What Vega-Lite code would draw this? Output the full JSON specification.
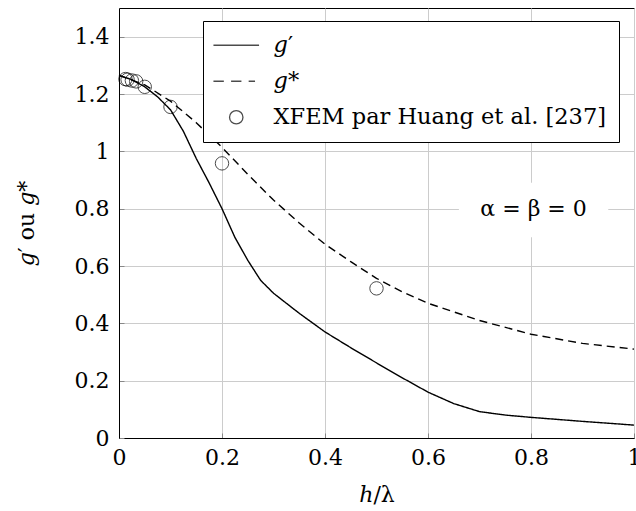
{
  "$schema": "https://vega.github.io/schema/vega-lite/v6.json",
  "width": 515,
  "height": 430,
  "autosize": {"type": "none"},
  "padding": {"left": 119, "top": 8, "right": 2, "bottom": 73},
  "background": "white",
  "config": {
    "font": "DejaVu Serif",
    "view": {"stroke": "black", "strokeWidth": 1},
    "axis": {
      "grid": true, "labelFlush": false,
      "labelFont": "DejaVu Serif", "labelFontSize": 22, "labelColor": "black",
      "titleFont": "DejaVu Serif", "titleFontSize": 22, "titleFontWeight": "normal", "titleColor": "black",
      "gridColor": "#cccccc", "gridWidth": 1, "domainColor": "black", "domainWidth": 1,
      "tickColor": "#888888", "tickSize": -5
    }
  },
  "datasets": {
    "curves": [
      {"h": 0.0, "g": 1.265, "series": "𝑔′"},
      {"h": 0.025, "g": 1.25, "series": "𝑔′"},
      {"h": 0.05, "g": 1.225, "series": "𝑔′"},
      {"h": 0.075, "g": 1.19, "series": "𝑔′"},
      {"h": 0.1, "g": 1.145, "series": "𝑔′"},
      {"h": 0.125, "g": 1.07, "series": "𝑔′"},
      {"h": 0.15, "g": 0.975, "series": "𝑔′"},
      {"h": 0.175, "g": 0.89, "series": "𝑔′"},
      {"h": 0.2, "g": 0.80, "series": "𝑔′"},
      {"h": 0.225, "g": 0.70, "series": "𝑔′"},
      {"h": 0.25, "g": 0.62, "series": "𝑔′"},
      {"h": 0.275, "g": 0.55, "series": "𝑔′"},
      {"h": 0.3, "g": 0.505, "series": "𝑔′"},
      {"h": 0.35, "g": 0.435, "series": "𝑔′"},
      {"h": 0.4, "g": 0.37, "series": "𝑔′"},
      {"h": 0.45, "g": 0.315, "series": "𝑔′"},
      {"h": 0.5, "g": 0.262, "series": "𝑔′"},
      {"h": 0.55, "g": 0.21, "series": "𝑔′"},
      {"h": 0.6, "g": 0.16, "series": "𝑔′"},
      {"h": 0.65, "g": 0.12, "series": "𝑔′"},
      {"h": 0.7, "g": 0.092, "series": "𝑔′"},
      {"h": 0.75, "g": 0.08, "series": "𝑔′"},
      {"h": 0.8, "g": 0.072, "series": "𝑔′"},
      {"h": 0.9, "g": 0.058, "series": "𝑔′"},
      {"h": 1.0, "g": 0.045, "series": "𝑔′"},
      {"h": 0.0, "g": 1.265, "series": "𝑔*"},
      {"h": 0.05, "g": 1.232, "series": "𝑔*"},
      {"h": 0.1, "g": 1.175, "series": "𝑔*"},
      {"h": 0.15, "g": 1.10, "series": "𝑔*"},
      {"h": 0.2, "g": 1.014, "series": "𝑔*"},
      {"h": 0.25, "g": 0.92, "series": "𝑔*"},
      {"h": 0.3, "g": 0.83, "series": "𝑔*"},
      {"h": 0.35, "g": 0.75, "series": "𝑔*"},
      {"h": 0.4, "g": 0.676, "series": "𝑔*"},
      {"h": 0.45, "g": 0.615, "series": "𝑔*"},
      {"h": 0.5, "g": 0.557, "series": "𝑔*"},
      {"h": 0.55, "g": 0.51, "series": "𝑔*"},
      {"h": 0.6, "g": 0.47, "series": "𝑔*"},
      {"h": 0.7, "g": 0.41, "series": "𝑔*"},
      {"h": 0.8, "g": 0.362, "series": "𝑔*"},
      {"h": 0.9, "g": 0.33, "series": "𝑔*"},
      {"h": 1.0, "g": 0.31, "series": "𝑔*"}
    ],
    "xfem": [
      {"h": 0.0125, "g": 1.252, "series": "XFEM par Huang et al. [237]"},
      {"h": 0.0167, "g": 1.25, "series": "XFEM par Huang et al. [237]"},
      {"h": 0.025, "g": 1.247, "series": "XFEM par Huang et al. [237]"},
      {"h": 0.0333, "g": 1.244, "series": "XFEM par Huang et al. [237]"},
      {"h": 0.05, "g": 1.225, "series": "XFEM par Huang et al. [237]"},
      {"h": 0.1, "g": 1.155, "series": "XFEM par Huang et al. [237]"},
      {"h": 0.2, "g": 0.958, "series": "XFEM par Huang et al. [237]"},
      {"h": 0.5, "g": 0.522, "series": "XFEM par Huang et al. [237]"}
    ]
  },
  "layer": [
    {
      "data": {"name": "curves"},
      "mark": {"type": "line", "color": "black", "strokeWidth": 1.4},
      "encoding": {
        "x": {
          "field": "h", "type": "quantitative",
          "scale": {"domain": [0, 1], "nice": false},
          "axis": {"grid": true, "labelFlush": false, "values": [0, 0.2, 0.4, 0.6, 0.8, 1], "format": "~g", "title": "ℎ/λ", "labelPadding": 14, "titlePadding": 16}
        },
        "y": {
          "field": "g", "type": "quantitative",
          "scale": {"domain": [0, 1.5], "nice": false},
          "axis": {"grid": true, "labelFlush": false, "values": [0, 0.2, 0.4, 0.6, 0.8, 1, 1.2, 1.4], "format": "~g", "title": "𝑔′ ou 𝑔*", "labelPadding": 15, "titlePadding": 36}
        },
        "strokeDash": {
          "field": "series", "type": "nominal",
          "scale": {"domain": ["𝑔′", "𝑔*"], "range": [[1, 0], [8, 5]]},
          "legend": null
        }
      }
    },
    {
      "data": {"values": [{}]},
      "mark": {"type": "rect", "fill": "white", "stroke": null},
      "encoding": {
        "x": {"datum": 0.66, "type": "quantitative"},
        "x2": {"datum": 0.95},
        "y": {"datum": 0.70, "type": "quantitative"},
        "y2": {"datum": 0.89}
      }
    },
    {
      "data": {"name": "xfem"},
      "mark": {"type": "point", "filled": false, "color": "black", "strokeWidth": 1, "size": 180},
      "encoding": {
        "x": {"field": "h", "type": "quantitative"},
        "y": {"field": "g", "type": "quantitative"},
        "shape": {
          "field": "series", "type": "nominal",
          "scale": {
            "domain": ["𝑔′", "𝑔*", "XFEM par Huang et al. [237]"],
            "range": ["M-3.4,0H3.4", "M-3.4,0H-1.85M-0.77,0H0.77M1.85,0H2.8", "circle"]
          },
          "legend": {
            "orient": "none", "legendX": 84, "legendY": 13,
            "title": null,
            "fillColor": "white", "strokeColor": "black",
            "padding": 13,
            "labelFont": "DejaVu Serif", "labelFontSize": 22.5, "labelColor": "black", "labelLimit": 600,
            "symbolSize": 180, "symbolStrokeColor": "black", "symbolStrokeWidth": 1.3,
            "symbolFillColor": "transparent",
            "rowPadding": 13, "symbolOffset": 9, "labelOffset": 26
          }
        }
      }
    },
    {
      "data": {"values": [{"label": "α = β = 0"}]},
      "mark": {"type": "text", "font": "DejaVu Serif", "fontSize": 22, "color": "black", "align": "center", "baseline": "middle"},
      "encoding": {
        "x": {"datum": 0.805, "type": "quantitative"},
        "y": {"datum": 0.8, "type": "quantitative"},
        "text": {"field": "label"}
      }
    }
  ]
}
